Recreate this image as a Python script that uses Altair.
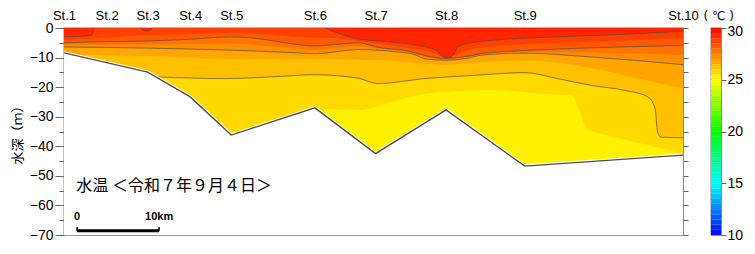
import altair as alt
import pandas as pd

# ---------------- data ----------------
station_names = ["St.1", "St.2", "St.3", "St.4", "St.5", "St.6", "St.7", "St.8", "St.9", "St.10"]
station_km = [0.0, 5.2, 10.2, 15.4, 20.4, 30.6, 38.0, 46.6, 56.2, 75.5]
seabed_depth = [-8.4, -11.7, -14.9, -23.3, -36.2, -27.0, -42.5, -27.7, -46.7, -43.0]

X_MAX = 75.5
Y_MIN = -70.0

# isotherm depths (m) along the section (km)
iso_25_5_km = [0.0, 20.4, 28.0, 30.6, 32.0, 35.9, 39.9, 44.0, 52.1, 58.3, 61.9, 62.8, 63.7, 66.3, 71.2, 75.5]
iso_25_5_depth = [-40.0, -40.0, -31.0, -27.7, -27.5, -27.7, -25.0, -22.2, -21.0, -22.2, -22.8, -27.3, -34.0, -36.3, -39.6, -42.6]

iso_26_km = [0.0, 10.2, 11.2, 11.8, 15.4, 19.6, 25.5, 30.6, 35.9, 38.3, 44.0, 50.0, 56.2, 60.2, 64.3, 68.4, 71.2, 72.1, 72.4, 72.8, 75.5]
iso_26_depth = [-20.0, -17.0, -16.5, -16.6, -16.9, -17.1, -16.5, -15.8, -17.0, -18.8, -17.1, -16.0, -15.1, -17.1, -19.4, -21.1, -23.3, -27.3, -35.2, -36.9, -37.1]

iso_26_5_km = [0.0, 10.2, 20.4, 30.6, 38.3, 44.0, 46.5, 50.9, 56.2, 64.3, 70.0, 75.5]
iso_26_5_depth = [-9.0, -9.5, -10.5, -10.5, -10.8, -12.0, -12.5, -11.5, -11.0, -13.5, -17.0, -20.5]

iso_27_km = [0.0, 10.2, 20.4, 27.7, 30.6, 35.9, 38.3, 40.7, 42.8, 44.0, 46.5, 48.9, 50.9, 56.2, 64.3, 75.5]
iso_27_depth = [-6.4, -6.8, -7.5, -8.3, -8.7, -7.3, -7.5, -8.1, -9.0, -10.4, -10.9, -10.4, -9.2, -8.5, -9.8, -12.4]

iso_27_5_km = [0.0, 10.2, 15.4, 20.4, 27.7, 30.6, 35.9, 38.3, 42.0, 44.0, 46.5, 48.9, 51.0, 56.2, 64.3, 75.5]
iso_27_5_depth = [-5.7, -5.6, -5.45, -5.25, -6.8, -7.4, -6.15, -7.0, -8.2, -9.85, -10.6, -10.0, -8.9, -8.05, -8.3, -9.15]

iso_28_km = [0.0, 3.3, 10.2, 15.4, 20.4, 23.7, 27.7, 30.6, 33.0, 35.9, 38.3, 42.0, 44.5, 46.5, 48.5, 51.0, 53.5, 56.2, 62.0, 68.0, 75.5]
iso_28_depth = [-5.0, -4.7, -4.4, -3.8, -3.0, -3.6, -5.3, -6.1, -5.6, -5.0, -6.5, -7.8, -9.6, -10.3, -9.9, -8.6, -8.0, -7.6, -6.9, -6.4, -5.9]

iso_28_5_km = [0.0, 3.3, 10.2, 15.4, 20.4, 23.7, 27.7, 30.6, 33.0, 35.9, 39.9, 43.2, 45.4, 46.5, 47.7, 49.6, 52.1, 56.2, 60.2, 68.4, 75.5]
iso_28_5_depth = [-4.0, -3.6, -2.4, -2.0, -1.6, -1.9, -2.8, -3.3, -3.4, -4.4, -5.9, -7.3, -8.7, -10.15, -9.1, -7.2, -6.3, -5.5, -5.0, -4.2, -3.5]

iso_29_a_km = [0.0, 3.3, 3.5, 3.65]
iso_29_a_depth = [-3.0, -2.5, -1.7, 0.0]
iso_29_b_km = [9.3, 9.7, 10.05, 10.4, 10.8]
iso_29_b_depth = [0.0, -0.8, -1.0, -0.8, 0.0]
iso_29_c_km = [31.9, 33.5, 35.9, 39.9, 43.2, 45.4, 46.0, 46.5, 47.2, 47.7, 48.0, 49.6, 52.1, 60.2, 68.4, 75.5]
iso_29_c_depth = [0.0, -1.8, -3.7, -4.7, -5.9, -7.5, -9.2, -10.0, -9.8, -8.1, -6.4, -5.0, -4.2, -3.0, -2.1, -1.1]

colorbar_ticks = [10, 15, 20, 25, 30]
colorbar_steps = [10.0 + 0.5 * i for i in range(40)]
colorbar_unit = "( ℃ )"

scalebar_km = [1.6, 11.6]
scalebar_labels = ["0", "10km"]
scalebar_depth = -68.6
scalebar_label_depth = -63.9

title_text = "水温 ＜令和７年９月４日＞"
title_km = 1.5
title_depth = -53.4

# ---------------- build tables ----------------
bands = [
    (25.0, [("base", [0.0, X_MAX], [Y_MIN, Y_MIN])]),
    (25.5, [("a", iso_25_5_km, iso_25_5_depth)]),
    (26.0, [("a", iso_26_km, iso_26_depth)]),
    (26.5, [("a", iso_26_5_km, iso_26_5_depth)]),
    (27.0, [("a", iso_27_km, iso_27_depth)]),
    (27.5, [("a", iso_27_5_km, iso_27_5_depth)]),
    (28.0, [("a", iso_28_km, iso_28_depth)]),
    (28.5, [("a", iso_28_5_km, iso_28_5_depth)]),
    (29.0, [("a", iso_29_a_km, iso_29_a_depth),
            ("b", iso_29_b_km, iso_29_b_depth),
            ("c", iso_29_c_km, iso_29_c_depth)]),
]


def band_frame(level, segs):
    rows = []
    for seg, kms, deps in segs:
        for k, d in zip(kms, deps):
            rows.append({"km": k, "depth": d, "top": 0.0, "tmid": level + 0.25,
                         "seg": f"{level}-{seg}"})
    return pd.DataFrame(rows)


xscale = alt.Scale(domain=[0, X_MAX], nice=False, zero=False)
yscale = alt.Scale(domain=[Y_MIN, 0], nice=False, zero=False)
cscale = alt.Scale(
    domain=[10, 12.5, 15, 17.5, 20, 22.5, 25, 27.5, 30],
    range=["#0000ff", "#0080ff", "#00ffff", "#00ff80", "#00ff00", "#80ff00",
           "#ffff00", "#ff8000", "#ff0000"],
    interpolate="rgb",
)

labelexpr = ("[" + ",".join(f"'{n}'" for n in station_names) + "][indexof(["
             + ",".join(str(k) for k in station_km) + "], datum.value)]")

top_axis = alt.Axis(orient="top", values=station_km, labelExpr=labelexpr, ticks=False,
                    domain=False, grid=False, labelFlush=False, labelOverlap=False,
                    labelFontSize=13, labelPadding=6, title=None, labelFont="Liberation Sans")
left_major = alt.Axis(orient="left", values=[-70, -60, -50, -40, -30, -20, -10, 0],
                      tickSize=9, domain=False, grid=False, labelFontSize=14, labelPadding=2,
                      title="水深（ｍ）", titleFont="Noto Sans CJK JP", titleFontSize=13,
                      titleFontWeight="normal", titlePadding=5, labelFont="Liberation Sans")
left_minor = alt.Axis(orient="left", values=[-65, -55, -45, -35, -25, -15, -5],
                      tickSize=5, domain=False, grid=False, labels=False, title=None)
right_ticks = alt.Axis(orient="right", values=[-70, -65, -60, -55, -50, -45, -40, -35, -30,
                                               -25, -20, -15, -10, -5, 0],
                       tickSize=5, domain=False, grid=False, labels=False, title=None)

layers = []
for i, (level, segs) in enumerate(bands):
    df = band_frame(level, segs)
    xa = top_axis if i == 0 else None
    ya = [left_major, left_minor, right_ticks][i] if i < 3 else None
    layers.append(
        alt.Chart(df).mark_area(interpolate="monotone", clip=True).encode(
            x=alt.X("km:Q", scale=xscale, axis=xa),
            y=alt.Y("depth:Q", scale=yscale, axis=ya, stack=None),
            y2="top:Q",
            color=alt.Color("tmid:Q", scale=cscale, legend=None),
            detail="seg:N",
        )
    )

# contour lines every 1 degree
line_frames = [band_frame(lv, sg) for lv, sg in bands if lv in (26.0, 27.0, 28.0, 29.0)]
lines_df = pd.concat(line_frames, ignore_index=True)
layers.append(
    alt.Chart(lines_df).mark_line(interpolate="monotone", clip=True, color="#4a4a4a",
                                  strokeWidth=0.9, opacity=0.75).encode(
        x=alt.X("km:Q", scale=xscale, axis=None),
        y=alt.Y("depth:Q", scale=yscale, axis=None),
        detail="seg:N",
    )
)

# seabed mask
bed = pd.DataFrame({"km": station_km, "depth": seabed_depth, "bottom": Y_MIN})
layers.append(
    alt.Chart(bed).mark_area(color="white", clip=True).encode(
        x=alt.X("km:Q", scale=xscale, axis=None),
        y=alt.Y("depth:Q", scale=yscale, axis=None, stack=None),
        y2="bottom:Q",
    )
)
layers.append(
    alt.Chart(bed).mark_line(color="white", strokeWidth=3.5, clip=True).encode(
        x=alt.X("km:Q", scale=xscale, axis=None),
        y=alt.Y("depth:Q", scale=yscale, axis=None),
    )
)
layers.append(
    alt.Chart(bed).mark_line(color="#4d4d4d", strokeWidth=1.4, clip=True).encode(
        x=alt.X("km:Q", scale=xscale, axis=None),
        y=alt.Y("depth:Q", scale=yscale, axis=None),
    )
)

# title annotation
ann = pd.DataFrame({"km": [title_km], "depth": [title_depth], "label": [title_text]})
layers.append(
    alt.Chart(ann).mark_text(align="left", baseline="middle", font="Noto Sans CJK JP",
                             fontSize=16, color="black").encode(
        x=alt.X("km:Q", scale=xscale, axis=None),
        y=alt.Y("depth:Q", scale=yscale, axis=None),
        text="label:N",
    )
)

# scale bar
sb = pd.DataFrame({"km": [scalebar_km[0]], "km2": [scalebar_km[1]], "depth": [scalebar_depth]})
layers.append(
    alt.Chart(sb).mark_rule(color="black", strokeWidth=3).encode(
        x=alt.X("km:Q", scale=xscale, axis=None),
        x2="km2:Q",
        y=alt.Y("depth:Q", scale=yscale, axis=None),
    )
)
sb_ends = pd.DataFrame({"km": scalebar_km, "depth": [scalebar_depth] * 2,
                        "depth2": [scalebar_depth + 1.3] * 2})
layers.append(
    alt.Chart(sb_ends).mark_rule(color="black", strokeWidth=1.5).encode(
        x=alt.X("km:Q", scale=xscale, axis=None),
        y=alt.Y("depth:Q", scale=yscale, axis=None),
        y2="depth2:Q",
    )
)
sb_text = pd.DataFrame({"km": scalebar_km, "depth": [scalebar_label_depth] * 2,
                        "label": scalebar_labels})
layers.append(
    alt.Chart(sb_text).mark_text(align="center", baseline="middle", font="Liberation Sans",
                                 fontSize=11, fontWeight="bold", color="black").encode(
        x=alt.X("km:Q", scale=xscale, axis=None),
        y=alt.Y("depth:Q", scale=yscale, axis=None),
        text="label:N",
    )
)

main = alt.layer(*layers).resolve_axis(x="independent", y="independent").properties(
    width=619, height=207)

cb = pd.DataFrame({"lo": colorbar_steps,
                   "hi": [v + 0.5 for v in colorbar_steps],
                   "tmid": [v + 0.25 for v in colorbar_steps]})
colorbar = alt.Chart(cb).mark_rect().encode(
    y=alt.Y("lo:Q", scale=alt.Scale(domain=[10, 30], nice=False, zero=False),
            axis=alt.Axis(orient="right", values=colorbar_ticks, tickSize=5, domain=False,
                          grid=False, labelFontSize=14, labelPadding=1,
                          labelFont="Liberation Sans",
                          labelOffset={"condition": {"test": "datum.value == 30", "value": 3},
                                       "value": 0},
                          title=colorbar_unit, titleAngle=0, titleAlign="left",
                          titleBaseline="alphabetic", titleX=-18, titleY=-9,
                          titleFont="DejaVu Sans", titleFontSize=12,
                          titleFontWeight="normal", titleColor="black")),
    y2="hi:Q",
    color=alt.Color("tmid:Q", scale=cscale, legend=None),
).properties(width=10, height=207)

chart = alt.hconcat(main, colorbar, spacing=28, bounds="flush").configure(
    padding={"left": 2, "top": 0, "right": 0, "bottom": 0}
).configure_view(stroke="#777777", strokeWidth=1.3).configure_axis(
    labelColor="black", tickColor="#666666"
)

chart.save("out.html", embed_options={"renderer": "svg", "actions": False})
